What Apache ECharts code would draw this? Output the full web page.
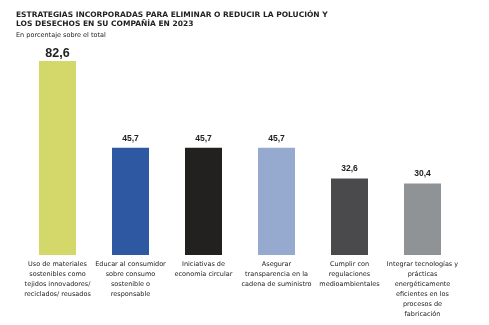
<!DOCTYPE html>
<html><head><meta charset="utf-8">
<script src="https://cdn.jsdelivr.net/npm/echarts@6/dist/echarts.min.js"></script>
<style>html,body{margin:0;padding:0;background:#fff}#c{width:489px;height:325px}</style>
</head><body><div id="c"></div>
<script>
const titleText = "ESTRATEGIAS INCORPORADAS PARA ELIMINAR O REDUCIR LA POLUCIÓN Y\nLOS DESECHOS EN SU COMPAÑÍA EN 2023";
const subtitleText = "En porcentaje sobre el total";
const categories = [
  "Uso de materiales\nsostenibles como\ntejidos innovadores/\nreciclados/ reusados",
  "Educar al consumidor\nsobre consumo\nsostenible o\nresponsable",
  "Iniciativas de\neconomía circular",
  "Asegurar\ntransparencia en la\ncadena de suministro",
  "Cumplir con\nregulaciones\nmedioambientales",
  "Integrar tecnologías y\nprácticas\nenergéticamente\neficientes en los\nprocesos de\nfabricación"
];
const values = [82.6, 45.7, 45.7, 45.7, 32.6, 30.4];
const colors = ["#d4d76a", "#2e58a1", "#222120", "#96aad0", "#4a4a4c", "#909395"];

const chart = echarts.init(document.getElementById('c'), null, {renderer: 'canvas'});
chart.setOption({
  animation: false,
  title: {
    text: titleText,
    subtext: subtitleText,
    left: 11, top: 6,
    itemGap: 4,
    textStyle: {fontFamily: 'DejaVu Sans', fontWeight: 'bold', fontSize: 7.5, lineHeight: 8.5, color: '#222'},
    subtextStyle: {fontFamily: 'DejaVu Sans', fontSize: 6.5, color: '#222'}
  },
  grid: {left: 21, right: 30, top: 61, bottom: 70},
  xAxis: {
    type: 'category', data: categories,
    axisLine: {show: false}, axisTick: {show: false},
    axisLabel: {interval: 0, margin: 4, fontFamily: 'DejaVu Sans', fontSize: 6.5, lineHeight: 10, color: '#222'}
  },
  yAxis: {type: 'value', min: 0, max: 82.6, show: false, splitLine: {show: false}},
  series: [{
    type: 'bar', barWidth: 37,
    data: values.map((v, i) => ({
      value: v,
      itemStyle: {color: colors[i]},
      label: i === 0 ? {fontSize: 12.5, distance: 1} : {}
    })),
    label: {
      show: true, position: 'top', distance: 5,
      fontFamily: 'Liberation Sans', fontWeight: 'bold', fontSize: 8.5, color: '#222',
      formatter: p => String(p.value).replace('.', ',')
    }
  }]
});
</script></body></html>
